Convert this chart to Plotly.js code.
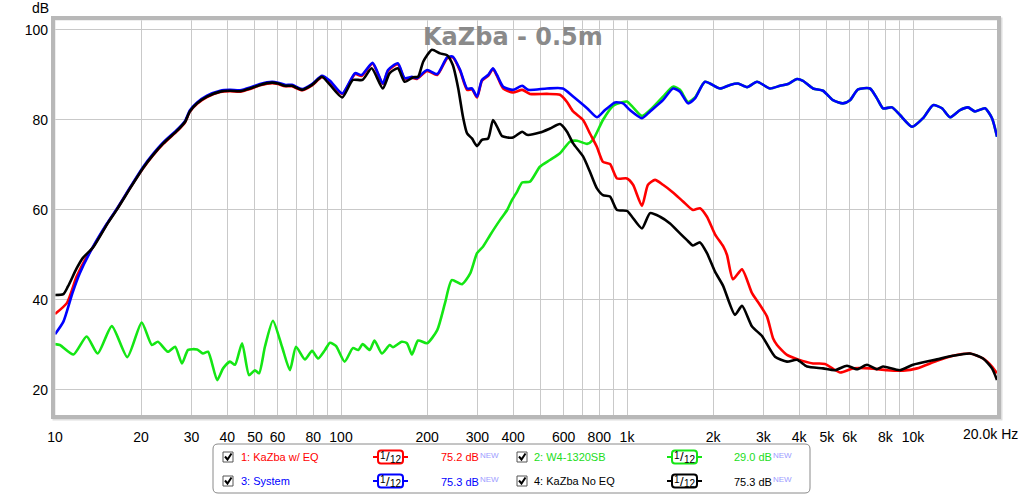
<!DOCTYPE html>
<html>
<head>
<meta charset="utf-8">
<script src="https://cdn.plot.ly/plotly-3.0.1.min.js"></script>
<style>html,body{margin:0;padding:0;background:#fff;}#chart{width:1024px;height:495px;}</style>
</head>
<body>
<div id="chart"></div>
<script>
// ---------------- data (Hz, dB) ----------------
const redFreq = [10,11.0,11.9,12.9,13.6,15.2,16.5,18.3,20.3,22.0,23.9,26.9,28.5,29.6,31.4,34.0,37.8,40.9,44.4,48.1,52.1,57.4,60.2,63.7,67.4,73.1,79.2,85.8,91.5,101,112,118,129,140,146,158,167,177,184,200,217,235,246,261,276,287,299,311,327,340,351,369,399,430,458,525,583,617,648,702,742,785,824,872,923,1000,1050,1128,1184,1253,1336,1448,1570,1701,1800,1904,2031,2166,2237,2347,2524,2736,2917,3087,3240,3346,3626,3962,4471,4924,5556,6169,7073,8112,9226,10330,12130,13800,15820,17570,18890,19670];
const redDb = [36.9,39.3,45.2,49.6,51.8,56.9,60.3,64.9,69.2,72.1,74.7,77.7,79.5,81.8,83.6,85.1,86.2,86.4,86.3,86.9,87.7,88.2,88.0,87.5,87.5,86.6,87.7,89.5,88.4,85.8,90.2,89.8,92.5,88.0,90.9,92.4,89.1,89.4,89.1,90.9,90.0,93.7,93.9,90.9,86.7,86.8,85.0,88.7,89.8,91.3,89.8,87.0,86.1,86.7,85.8,85.8,85.6,84.0,81.9,80.0,77.0,74.0,70.7,70.2,67.0,67.0,65.6,60.9,65.6,66.7,65.6,63.9,61.9,60.0,60.4,58.5,54.6,52.0,50.0,44.6,46.8,41.5,38.9,36.3,31.5,30.0,27.8,26.8,25.9,25.8,23.9,24.8,24.8,24.4,24.3,24.8,26.5,27.6,28.1,27.0,25.2,23.7];

const greenFreq = [10,10.4,11.6,12.9,14.1,15.8,17.9,20.1,21.8,22.9,24.8,26.3,27.8,29.2,31.4,32.9,34.3,36.9,38.7,40.9,42.6,45.1,47.7,50.0,51.7,54.2,57.8,62.2,66.3,69.6,74.8,79.2,83.1,87.9,91.5,96.0,103,110,115,119,126,131,139,148,152,163,170,177,186,200,217,231,244,265,283,299,314,332,360,381,396,413,430,458,496,538,583,632,669,725,760,824,893,968,1000,1050,1128,1204,1336,1448,1532,1634,1729,1874,2115,2292,2444,2629,2848,3162,3428,3656,3930,4125,4471,4846,5252,5691,6021,6424,7073,7482,7854,8445,9005,9920,10840,11750,12630,13470,14600,15570,16470,17850,18890,19670];
const greenDb = [30.2,30.0,27.9,31.9,28.1,34.2,27.3,35.0,30.0,30.7,28.5,29.6,25.9,28.9,29.0,28.1,28.5,22.2,24.8,26.3,25.6,30.4,23.3,24.4,23.7,29.6,35.4,29.6,24.4,29.6,26.8,28.7,27.0,28.9,30.5,29.8,26.3,29.3,28.9,30.2,28.9,31.0,28.1,30.0,29.5,30.7,30.4,27.9,31.0,30.4,33.3,39.3,44.4,43.5,45.9,50.4,51.9,54.4,57.8,60.0,62.2,64.1,66.1,66.3,69.6,71.1,72.6,75.2,75.4,74.7,75.6,80.0,83.1,84.0,84.1,82.8,80.9,82.2,85.2,87.4,86.7,84.0,85.0,88.5,87.0,87.8,88.1,87.3,88.5,87.0,87.6,88.0,89.1,88.7,87.0,86.5,84.4,83.7,84.4,86.8,87.0,84.8,82.6,82.8,81.1,78.5,80.4,83.3,82.6,80.6,82.2,82.8,81.9,82.6,80.4,76.3];

const blueFreq = [10,10.7,11.5,12.2,13.6,15.2,16.5,18.3,20.3,22.0,23.9,26.9,28.5,29.6,31.4,34.0,37.8,40.9,44.4,48.1,52.1,57.4,60.2,63.7,67.4,73.1,79.2,85.8,91.5,101,112,118,129,140,146,158,167,177,184,200,217,235,246,261,276,287,299,311,327,340,351,369,399,430,451,525,597,648,725,785,838,908,968,1024,1128,1204,1336,1448,1532,1634,1729,1874,2115,2292,2444,2629,2848,3162,3428,3656,3930,4125,4471,4846,5252,5691,6021,6424,7073,7482,7854,8445,9005,9920,10840,11750,12630,13470,14600,15570,16470,17850,18890,19670];
const blueDb = [32.4,35.2,41.5,45.9,51.9,57.0,60.4,65.0,69.5,72.4,75.0,78.0,79.8,82.1,83.9,85.4,86.5,86.7,86.6,87.2,88.0,88.5,88.3,87.8,87.8,86.9,88.0,89.8,88.7,85.9,90.4,90.0,92.7,88.1,91.1,92.6,89.3,89.6,89.3,91.1,90.2,93.9,94.1,91.1,87.0,87.0,85.2,88.9,90.0,91.5,90.0,87.4,86.7,87.6,86.7,87.0,87.0,85.2,82.6,80.6,82.2,83.9,83.7,82.2,80.4,81.9,84.4,87.0,86.3,83.7,84.8,88.5,87.0,87.8,88.1,87.3,88.5,87.0,87.6,88.0,89.1,88.7,87.0,86.5,84.4,83.7,84.4,86.8,87.0,84.8,82.6,82.8,81.1,78.5,80.4,83.3,82.6,80.6,82.2,82.8,81.9,82.6,80.4,76.3];

const blackFreq = [10,10.7,11.1,11.9,12.5,13.6,15.2,16.5,18.3,20.3,22.0,23.9,26.9,28.5,29.6,31.4,34.0,37.8,40.9,44.4,48.1,52.1,57.4,60.2,63.7,67.4,73.1,79.2,85.8,91.5,101,110,119,128,140,148,158,167,179,186,194,208,222,235,246,257,267,276,287,299,311,327,340,354,366,399,430,447,496,538,583,617,648,702,742,785,824,872,923,1000,1041,1128,1204,1305,1414,1532,1621,1701,1800,1904,2031,2166,2385,2524,2736,2965,3293,3626,3930,4261,4846,5338,5877,6372,6905,7482,7854,9005,10000,12130,13800,15820,17570,18890,19670];
const blackDb = [41.1,41.3,43.0,47.0,49.3,51.7,56.8,60.2,64.8,69.3,72.2,74.8,77.8,79.6,81.9,83.7,85.2,86.3,86.5,86.4,87.0,87.8,88.3,88.1,87.6,87.6,86.7,87.8,89.6,87.8,85.0,88.9,88.9,91.5,87.0,90.4,91.5,88.5,89.5,89.6,93.0,95.6,94.8,94.4,92.2,87.0,80.7,77.0,75.9,74.2,75.6,75.9,80.0,78.1,76.4,76.1,77.4,76.7,77.2,78.1,79.1,77.4,74.8,71.9,68.5,64.8,63.3,63.0,60.0,59.8,58.5,55.9,59.3,58.5,57.0,54.8,53.3,52.1,52.8,50.4,46.3,43.2,36.7,38.7,34.1,32.0,27.4,26.3,26.7,25.2,24.8,24.4,25.4,24.6,25.6,24.6,25.2,24.4,25.6,26.8,27.6,28.1,27.0,24.8,22.2];

const seriesNames  = ["1: KaZba w/ EQ", "2: W4-1320SB", "3: System", "4: KaZba No EQ"];
const seriesLevels = [75.2, 29.0, 75.3, 75.3];
const smoothingNum = "1", smoothingDen = "12";
const newTag = "NEW";

const xTickVals = [10,20,30,40,50,60,80,100,200,300,400,600,800,1000,2000,3000,4000,5000,6000,8000,10000];
const xTickText = ["10","20","30","40","50","60","80","100","200","300","400","600","800","1k","2k","3k","4k","5k","6k","8k","10k"];
const xExtraGrid = [70,90,500,700,900,7000,9000];
const yTickVals = [20,40,60,80,100];
const yTickText = ["20","40","60","80","100"];
const titleText = "KaZba - 0.5m";
const yUnit = "dB";
const xEndLabel = "20.0k Hz";

// ---------------- styles / layout ----------------
const colors = {red:"#ff0000", green:"#14e614", blue:"#0000ff", black:"#000000"};
const textColors = ["#ff0000", "#22dd22", "#0000ff", "#000000"];
const lineColors = [colors.red, colors.green, colors.blue, colors.black];

const PL = 55, PR = 997, PT = 20, PB = 415;
const fx = px => (px - PL) / (PR - PL);
const fy = py => (PB - py) / (PB - PT);

function trace(x, y, c, name){
  return {x:x, y:y, type:"scatter", mode:"lines", name:name,
    line:{color:c, width:2.6, shape:"spline", smoothing:0.6}, hoverinfo:"skip"};
}
const data = [
  trace(greenFreq, greenDb, colors.green, seriesNames[1]),
  trace(redFreq, redDb, colors.red, seriesNames[0]),
  trace(blueFreq, blueDb, colors.blue, seriesNames[2]),
  trace(blackFreq, blackDb, colors.black, seriesNames[3])
];

const font = "Liberation Sans, Arial, sans-serif";
const shapes = [];
const annotations = [];
function label(px, py, text, size, color, anchor, fam){
  annotations.push({xref:"paper", yref:"paper", x:fx(px), y:fy(py), xanchor:anchor||"left", yanchor:"middle",
    text:text, showarrow:false, borderpad:0, font:{family:fam||font, size:size, color:color}});
}

// frame with soft shadow
shapes.push({type:"rect", xref:"paper", yref:"paper", x0:fx(PL-1), x1:fx(PR+4), y0:fy(PB+4), y1:fy(PT-1),
  line:{color:"#dedede", width:3}, layer:"above"});
shapes.push({type:"rect", xref:"paper", yref:"paper", x0:fx(PL-2), x1:fx(PR+2), y0:fy(PB+2), y1:fy(PT-2),
  line:{color:"#b8b8b8", width:4}, layer:"above"});

label(513, 37, "<b>"+titleText+"</b>", 24, "#8a8a8a", "center", "DejaVu Sans, Verdana, sans-serif");
label(50, 8, yUnit, 14, "#000", "right");
label(962, 434, xEndLabel, 14, "#000", "left");

// legend box
function roundRect(x0,y0,x1,y1,r){
  return "M"+x0+","+(y0+r)+" Q"+x0+","+y0+" "+(x0+r)+","+y0+" L"+(x1-r)+","+y0+" Q"+x1+","+y0+" "+x1+","+(y0+r)+
    " L"+x1+","+(y1-r)+" Q"+x1+","+y1+" "+(x1-r)+","+y1+" L"+(x0+r)+","+y1+" Q"+x0+","+y1+" "+x0+","+(y1-r)+" Z";
}
function pathPaper(d){
  return d.replace(/(-?\d+(\.\d+)?),(-?\d+(\.\d+)?)/g, (m,a,b,c)=> fx(parseFloat(a)).toFixed(5)+","+fy(parseFloat(c)).toFixed(5));
}
shapes.push({type:"path", xref:"paper", yref:"paper", path:pathPaper(roundRect(213,444,810,493,5)),
  line:{color:"#8a8a8a", width:1}, fillcolor:"#ffffff", layer:"above"});

const rows = [457, 481];
const cols = [{cb:223, txt:240, icon:373, val:440}, {cb:517, txt:533, icon:667, val:733}];
const order = [[0,0],[1,0],[0,1],[1,1]];
for (let i=0;i<4;i++){
  const c = cols[order[i][0]], yc = rows[order[i][1]];
  shapes.push({type:"rect", xref:"paper", yref:"paper", x0:fx(c.cb), x1:fx(c.cb+10), y0:fy(yc+5), y1:fy(yc-5),
    line:{color:"#555555", width:1}, fillcolor:"#ffffff", layer:"above"});
  shapes.push({type:"path", xref:"paper", yref:"paper",
    path:pathPaper("M"+(c.cb+2)+","+(yc-0.5)+" L"+(c.cb+4.5)+","+(yc+2.5)+" L"+(c.cb+8.5)+","+(yc-3.5)),
    line:{color:"#000", width:2}, layer:"above"});
  label(c.txt, yc, seriesNames[i], 11, textColors[i], "left");
  shapes.push({type:"line", xref:"paper", yref:"paper", x0:fx(c.icon), x1:fx(c.icon+35), y0:fy(yc), y1:fy(yc),
    line:{color:lineColors[i], width:2}, layer:"above"});
  shapes.push({type:"path", xref:"paper", yref:"paper", path:pathPaper(roundRect(c.icon+5, yc-6.5, c.icon+30, yc+6.5, 3)),
    line:{color:lineColors[i], width:2}, fillcolor:"#ffffff", layer:"above"});
  label(c.icon+9.5, yc-1.5, smoothingNum, 10, "#000", "center");
  label(c.icon+14.5, yc, "/", 13, "#000", "center");
  label(c.icon+23, yc+2.5, smoothingDen, 10, "#000", "center");
  label(c.val, yc+0.5, seriesLevels[i].toFixed(1)+" dB", 11, textColors[i], "left");
  label(c.val+38.5, yc-2, newTag, 8, "#9c9cff", "left");
}

const layout = {
  width:1024, height:495,
  margin:{l:PL, r:1024-PR, t:PT, b:495-PB, pad:0},
  paper_bgcolor:"#ffffff", plot_bgcolor:"#ffffff",
  showlegend:false,
  xaxis:{type:"log", range:[1, 1+942/286], tickmode:"array", tickvals:xTickVals, ticktext:xTickText,
    showgrid:true, gridcolor:"#c9c9c9", gridwidth:1, zeroline:false, showline:false, ticks:"",
    minor:{tickmode:"array", tickvals:xExtraGrid, showgrid:true, gridcolor:"#c9c9c9", gridwidth:1, ticks:""},
    ticklabelstandoff:12, tickfont:{family:font, size:14, color:"#000"}, fixedrange:true},
  yaxis:{range:[14.44, 102.22], tickmode:"array", tickvals:yTickVals, ticktext:yTickText,
    showgrid:true, gridcolor:"#c9c9c9", gridwidth:1, zeroline:false, showline:false, ticks:"",
    ticklabelstandoff:6, tickfont:{family:font, size:14, color:"#000"}, fixedrange:true},
  shapes:shapes, annotations:annotations
};
Plotly.newPlot("chart", data, layout, {displayModeBar:false, staticPlot:true});
</script>
</body>
</html>
